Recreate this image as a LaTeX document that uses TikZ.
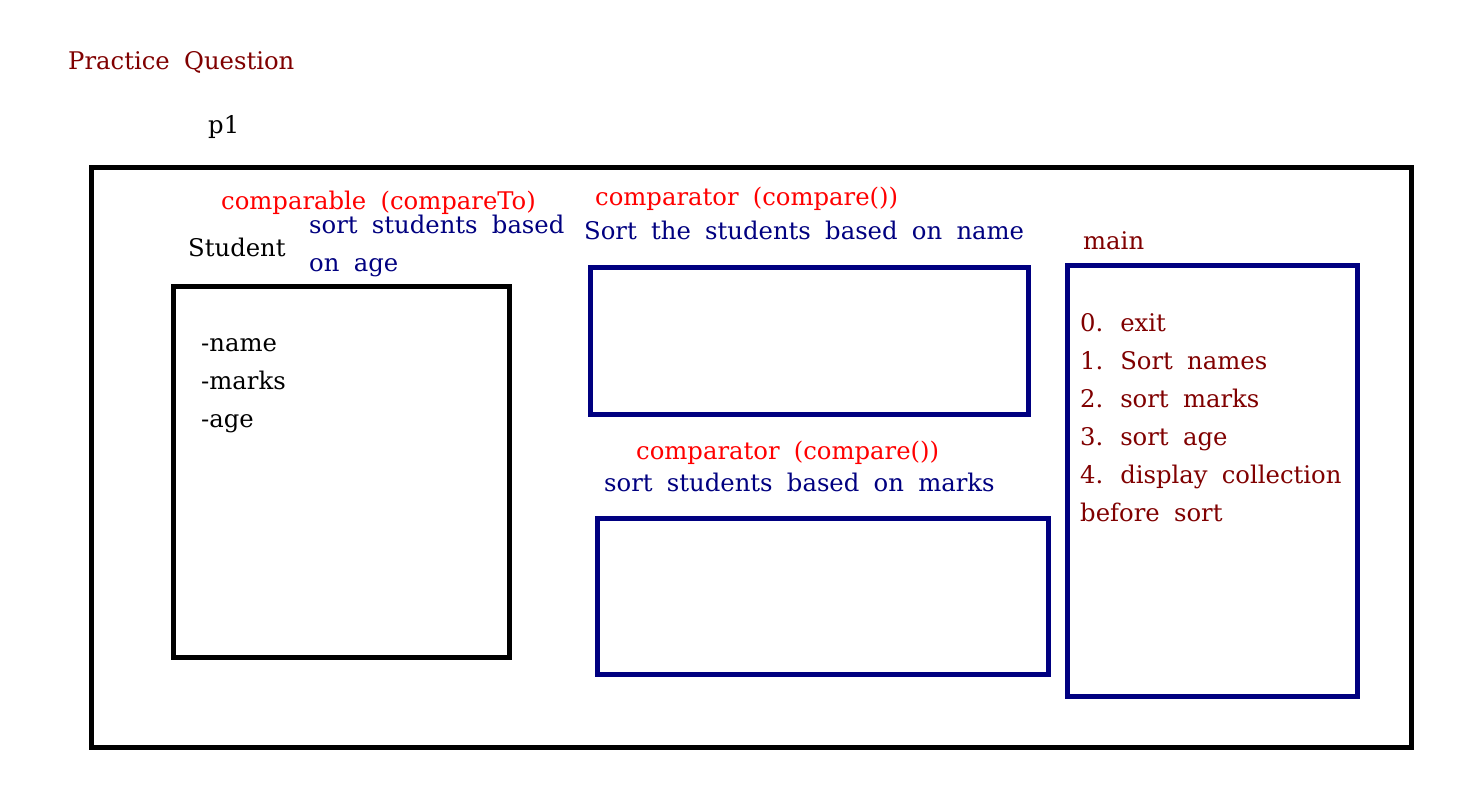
\documentclass[tikz,border=0pt]{standalone}
\usepackage{fontspec}
\setmainfont{DejaVu Serif}[WordSpace=1.85]
\definecolor{navyb}{RGB}{0,0,128}
\definecolor{darkr}{RGB}{128,0,0}
\definecolor{redt}{RGB}{255,0,0}
\tikzset{
  lbl/.style={anchor=west, inner sep=0pt, text height=18pt, text depth=5pt, font=\fontsize{24.3}{38}\selectfont},
  blackbox/.style={draw=black, line width=5pt},
  bluebox/.style={draw=navyb, line width=5pt},
}
\begin{document}
\begin{tikzpicture}[x=1pt,y=-1pt]
\useasboundingbox[fill=white] (0,0) rectangle (1481,795);
\draw[blackbox] (91,167) rectangle (1411,747);
\draw[blackbox] (173,286) rectangle (509,657);
\draw[bluebox] (590,267) rectangle (1028,414);
\draw[bluebox] (597,518) rectangle (1048,674);
\draw[bluebox] (1067,265) rectangle (1357,696);

\node[lbl, text=darkr] (title) at (68,63) {Practice Question};
\node[lbl] (p1) at (208,127) {p1};
\node[lbl, text=redt] (cmpbl) at (221,203) {comparable (compareTo)};
\node[lbl, text=navyb] (age1) at (309,227) {sort students based};
\node[lbl, text=navyb] (age2) at (309,265) {on age};
\node[lbl] (student) at (188,250) {Student};
\node[lbl] (f1) at (201,345) {-name};
\node[lbl] (f2) at (201,383) {-marks};
\node[lbl] (f3) at (201,421) {-age};
\node[lbl, text=redt] (cmp1) at (595,199) {comparator (compare())};
\node[lbl, text=navyb] (byname) at (584,233) {Sort the students based on name};
\node[lbl, text=darkr] (main) at (1083,243) {main};
\node[lbl, text=darkr] (m0) at (1080,325) {0. exit};
\node[lbl, text=darkr] (m1) at (1080,363) {1. Sort names};
\node[lbl, text=darkr] (m2) at (1080,401) {2. sort marks};
\node[lbl, text=darkr] (m3) at (1080,439) {3. sort age};
\node[lbl, text=darkr] (m4) at (1080,477) {4. display collection};
\node[lbl, text=darkr] (m5) at (1080,515) {before sort};
\node[lbl, text=redt] (cmp2) at (636,453) {comparator (compare())};
\node[lbl, text=navyb] (bymarks) at (604,485) {sort students based on marks};
\end{tikzpicture}
\end{document}
